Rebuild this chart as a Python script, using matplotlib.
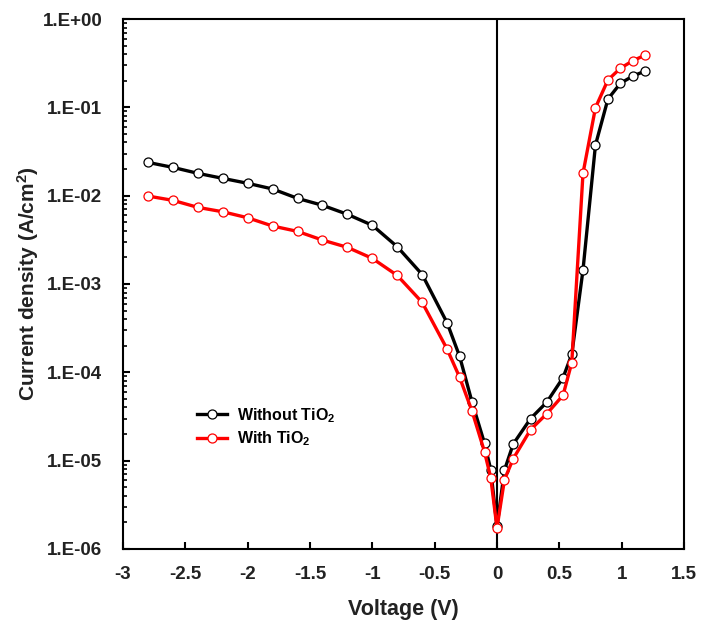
import matplotlib
matplotlib.use("Agg")
import matplotlib.pyplot as plt
from matplotlib.ticker import FixedLocator, FuncFormatter, LogLocator, NullFormatter
import numpy as np

plt.rcParams['font.family'] = ['Liberation Sans', 'DejaVu Sans']
plt.rcParams['mathtext.fontset'] = 'custom'
plt.rcParams['mathtext.rm'] = 'Liberation Sans:bold'
plt.rcParams['mathtext.it'] = 'Liberation Sans:bold'
plt.rcParams['mathtext.bf'] = 'Liberation Sans:bold'

# ---- data ----
v_without = [-2.8, -2.6, -2.4, -2.2, -2.0, -1.8, -1.6, -1.4, -1.2, -1.0, -0.8, -0.6,
             -0.4, -0.3, -0.2, -0.1, -0.05, 0.0,
             0.06, 0.13, 0.27, 0.4, 0.53, 0.6, 0.69, 0.79, 0.89, 0.99, 1.09, 1.19]
j_without = [0.0238, 0.0209, 0.0179, 0.0157, 0.0138, 0.0119, 0.00932, 0.00778, 0.00615, 0.00462, 0.00264, 0.00128,
             3.63e-4, 1.52e-4, 4.6e-5, 1.57e-5, 7.9e-6, 1.8e-6,
             7.8e-6, 1.54e-5, 3.0e-5, 4.6e-5, 8.7e-5, 1.6e-4, 1.44e-3, 0.0374, 0.124, 0.187, 0.226, 0.258]

v_with = [-2.8, -2.6, -2.4, -2.2, -2.0, -1.8, -1.6, -1.4, -1.2, -1.0, -0.8, -0.6,
          -0.4, -0.3, -0.2, -0.1, -0.05, 0.0,
          0.06, 0.13, 0.27, 0.4, 0.53, 0.6, 0.69, 0.79, 0.89, 0.99, 1.09, 1.19]
j_with = [0.0099, 0.00885, 0.00737, 0.00657, 0.00562, 0.00453, 0.00394, 0.00314, 0.0026, 0.00195, 0.00125, 6.19e-4,
          1.83e-4, 8.8e-5, 3.63e-5, 1.26e-5, 6.4e-6, 1.73e-6,
          6.1e-6, 1.05e-5, 2.25e-5, 3.4e-5, 5.5e-5, 1.29e-4, 0.0179, 0.099, 0.204, 0.277, 0.337, 0.391]

labels = ["Without TiO$_2$", "With TiO$_2$"]
colors = ["black", "#ff0000"]

x_ticks = [-3, -2.5, -2, -1.5, -1, -0.5, 0, 0.5, 1, 1.5]
y_ticks = [1e-6, 1e-5, 1e-4, 1e-3, 1e-2, 1e-1, 1e0]
y_ticklabels = ["1.E-06", "1.E-05", "1.E-04", "1.E-03", "1.E-02", "1.E-01", "1.E+00"]

fig = plt.figure(figsize=(7.01, 6.23), dpi=100)
ax = fig.add_axes([0.1755, 0.1188, 0.8002, 0.8507])

ax.axvline(0, color="black", lw=1.5, zorder=1)

for v, j, lab, c in [(v_without, j_without, labels[0], colors[0]),
                     (v_with, j_with, labels[1], colors[1])]:
    ax.plot(v, j, color=c, lw=2.4, marker="o", ms=6.5, mfc="white", mec=c, mew=0.9,
            label=lab, zorder=3)

ax.set_yscale("log")
ax.set_xlim(-3, 1.5)
ax.set_ylim(1e-6, 1e0)
ax.xaxis.set_major_locator(FixedLocator(x_ticks))
ax.xaxis.set_major_formatter(FuncFormatter(lambda x, p: f"{x:g}"))
ax.yaxis.set_major_locator(FixedLocator(y_ticks))
ax.set_yticklabels(y_ticklabels)
ax.yaxis.set_minor_locator(LogLocator(base=10, subs=np.arange(2, 10)))
ax.yaxis.set_minor_formatter(NullFormatter())

ax.tick_params(axis="both", which="major", direction="in", length=5, width=1.5,
               labelsize=13.5)
ax.tick_params(axis="x", which="major", pad=12)
ax.tick_params(axis="y", which="major", pad=15)
ax.tick_params(axis="y", which="minor", direction="in", length=3, width=1.2)
for lbl in ax.get_xticklabels() + ax.get_yticklabels():
    lbl.set_fontweight("bold")
    lbl.set_color("#222222")

for s in ax.spines.values():
    s.set_linewidth(1.5)

ax.set_xlabel("Voltage (V)", fontsize=15.5, fontweight="bold", color="#222222", labelpad=12)
ax.set_ylabel("Current density (A/cm$^2$)", fontsize=15, fontweight="bold", color="#222222", labelpad=1)

leg = ax.legend(loc="upper left", bbox_to_anchor=(0.132, 0.27), frameon=False,
                prop={"weight": "bold", "size": 11.5}, handlelength=1.9,
                handletextpad=0.6, labelspacing=0.3, borderpad=0, borderaxespad=0)

fig.savefig("out.png", dpi=100)
